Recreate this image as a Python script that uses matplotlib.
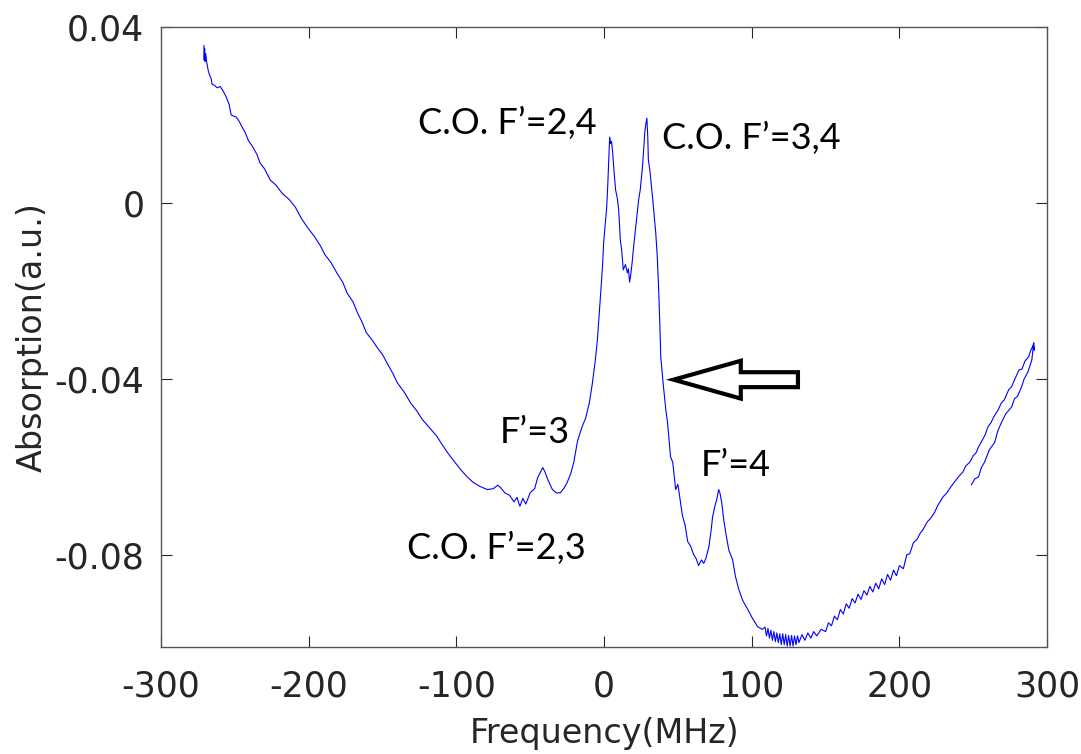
import matplotlib
matplotlib.use("Agg")
import matplotlib.pyplot as plt
from matplotlib.patches import FancyArrow

plt.rcParams['axes.unicode_minus'] = False

# Absorption trace (forward sweep, then short return near +290 MHz)
freq = [-271.0, -270.8, -270.5, -270.2, -269.8, -269.0, -268.0, -267.0, -266.0, -265.5,
        -264.0, -262.0, -260.0, -258.0, -256.0, -254.0, -252.5, -251.0, -249.0, -247.0,
        -245.0, -243.0, -241.0, -238.0, -235.0, -233.0, -230.0, -226.0, -222.0, -218.0,
        -213.0, -209.0, -205.0, -201.0, -196.0, -192.0, -189.0, -185.0, -181.0, -177.0,
        -174.0, -170.0, -167.0, -164.0, -161.0, -157.0, -154.0, -150.0, -147.0, -143.0,
        -140.0, -135.0, -131.0, -127.0, -123.0, -118.0, -113.0, -110.0, -106.0, -101.0,
        -97.0, -93.0, -88.5, -84.0, -79.0, -75.0, -72.0, -70.0, -67.0, -64.0,
        -61.0, -59.0, -57.0, -55.0, -53.0, -50.0, -47.0, -45.0, -43.0, -41.5,
        -40.0, -38.0, -35.0, -32.0, -29.5, -27.0, -25.0, -22.5, -20.5, -18.0,
        -15.0, -12.5, -10.0, -8.0, -6.0, -4.5, -3.0, -2.0, -1.0, -0.3,
        1.0, 1.8, 2.5, 3.0, 3.5, 3.8, 4.5, 5.0, 5.7, 6.8,
        7.8, 9.0, 9.9, 11.0, 12.0, 13.0, 14.5, 15.8, 16.5, 17.3,
        18.0, 19.0, 20.0, 21.4, 23.4, 24.5, 26.0, 27.0, 27.5, 28.3,
        29.0, 29.6, 30.0, 31.0, 33.0, 34.0, 35.0, 36.0, 37.0, 37.8,
        38.4, 40.0, 41.8, 43.0, 45.0, 46.5, 48.5, 50.0, 53.0, 55.0,
        56.6, 58.5, 60.7, 62.5, 64.0, 66.0, 67.5, 69.0, 71.0, 72.5,
        73.5, 75.0, 76.3, 77.6, 78.5, 79.7, 81.0, 82.4, 84.5, 87.0,
        89.0, 91.3, 94.0, 97.4, 100.5, 104.0, 107.0, 109, 110, 111,
        112, 113, 114, 115, 116, 117, 118, 119, 120, 121,
        122, 123, 124, 125, 126, 127, 128, 129, 130, 131,
        132, 134, 136, 138, 140, 142, 144, 147, 150, 152,
        154, 156, 158, 160, 162, 164, 166, 168, 170, 172,
        174, 176, 178, 180, 182, 184, 186, 188, 190, 192,
        194, 196, 198, 200, 202.7, 205, 207, 209.5, 212, 214,
        216, 219, 221, 223.7, 226, 229.7, 232, 235, 238, 240,
        243, 245, 247.6, 250, 252, 253.6, 256, 258, 260, 262,
        264, 267, 269, 271, 274, 276, 278, 281, 283, 285,
        287.5, 289, 290.5, 291, 291.3, 290.8,
        289.7, 287, 284.5, 282.8, 280, 278, 276, 272, 269, 266.5,
        264.5, 261, 259, 257.6, 255.5, 253.6, 251, 248.8]

absorption = [0.0358, 0.0325, 0.0352, 0.0322, 0.0340, 0.0318, 0.0300, 0.0290, 0.0282, 0.0270,
              0.0268, 0.0262, 0.0265, 0.0255, 0.0242, 0.0225, 0.0200, 0.0198, 0.0195, 0.0185,
              0.0172, 0.0160, 0.0143, 0.0128, 0.0110, 0.0091, 0.0078, 0.0052, 0.0040, 0.0022,
              0.0007, -0.0010, -0.0035, -0.0055, -0.0077, -0.0098, -0.0118, -0.0135, -0.0159, -0.0180,
              -0.0205, -0.0225, -0.0250, -0.0270, -0.0295, -0.0312, -0.0327, -0.0345, -0.0364, -0.0388,
              -0.0409, -0.0432, -0.0455, -0.0472, -0.0493, -0.0512, -0.0532, -0.0548, -0.0568, -0.0590,
              -0.0607, -0.0622, -0.0636, -0.0645, -0.0652, -0.0650, -0.0642, -0.0648, -0.0660, -0.0665,
              -0.0680, -0.0670, -0.0690, -0.0672, -0.0685, -0.0659, -0.0650, -0.0625, -0.0612, -0.0602,
              -0.0612, -0.0630, -0.0652, -0.0660, -0.0659, -0.0648, -0.0636, -0.0615, -0.0590, -0.0542,
              -0.0510, -0.0490, -0.0455, -0.0412, -0.0360, -0.0311, -0.0240, -0.0191, -0.0140, -0.0091,
              -0.0040, -0.0009, 0.0040, 0.0082, 0.0130, 0.0150, 0.0135, 0.0140, 0.0120, 0.0070,
              0.0030, 0.0010, -0.0016, -0.0084, -0.0110, -0.0152, -0.0140, -0.0159, -0.0150, -0.0180,
              -0.0165, -0.0136, -0.0100, -0.0055, 0.0007, 0.0030, 0.0082, 0.0130, 0.0159, 0.0180,
              0.0193, 0.0150, 0.0098, 0.0075, 0.0007, -0.0030, -0.0068, -0.0120, -0.0198, -0.0280,
              -0.0350, -0.0410, -0.0470, -0.0500, -0.0577, -0.0590, -0.0652, -0.0640, -0.0710, -0.0735,
              -0.0770, -0.0780, -0.0800, -0.0810, -0.0825, -0.0812, -0.0820, -0.0808, -0.0782, -0.0745,
              -0.0714, -0.0690, -0.0675, -0.0652, -0.0660, -0.0682, -0.0720, -0.0750, -0.0790, -0.0811,
              -0.0850, -0.0880, -0.0905, -0.0925, -0.0945, -0.0964, -0.0970, -0.0965, -0.0985, -0.0968,
              -0.0990, -0.0972, -0.0995, -0.0975, -0.0998, -0.0978, -0.1000, -0.0980, -0.1005, -0.0980,
              -0.1005, -0.0982, -0.1008, -0.0984, -0.1008, -0.0984, -0.1008, -0.0985, -0.1005, -0.0985,
              -0.1000, -0.0982, -0.0995, -0.0978, -0.0990, -0.0975, -0.0985, -0.0970, -0.0975, -0.0955,
              -0.0962, -0.0940, -0.0948, -0.0925, -0.0935, -0.0912, -0.0922, -0.0900, -0.0910, -0.0890,
              -0.0902, -0.0882, -0.0892, -0.0872, -0.0885, -0.0865, -0.0878, -0.0855, -0.0868, -0.0845,
              -0.0858, -0.0835, -0.0848, -0.0825, -0.0832, -0.0800, -0.0798, -0.0773, -0.0765, -0.0752,
              -0.0743, -0.0725, -0.0718, -0.0705, -0.0688, -0.0668, -0.0660, -0.0645, -0.0632, -0.0623,
              -0.0612, -0.0598, -0.0590, -0.0575, -0.0568, -0.0555, -0.0540, -0.0528, -0.0509, -0.0500,
              -0.0486, -0.0470, -0.0455, -0.0448, -0.0425, -0.0418, -0.0402, -0.0380, -0.0378, -0.0360,
              -0.0350, -0.0335, -0.0325, -0.0318, -0.0335, -0.0322,
              -0.0357, -0.0385, -0.0400, -0.0418, -0.0440, -0.0445, -0.0464, -0.0480, -0.0500, -0.0520,
              -0.0545, -0.0561, -0.0578, -0.0590, -0.0602, -0.0623, -0.0628, -0.0641]

xticks = [-300, -200, -100, 0, 100, 200, 300]
yticks = [-0.08, -0.04, 0, 0.04]
ytick_labels = ['-0.08', '-0.04', '0', '0.04']

# peak labels: (text, x, y)
peak_labels = [("C.O. F\u2019=2,4", -65.6, 0.0182),
               ("C.O. F\u2019=3,4", 99.4, 0.0148),
               ("F\u2019=3", -46.6, -0.0523),
               ("F\u2019=4", 89.3, -0.0598),
               ("C.O. F\u2019=2,3", -73.0, -0.0786)]

axcol = '#262626'

fig = plt.figure(figsize=(10.81, 7.54), dpi=100)
ax = fig.add_axes([0.149, 0.142, 0.8196, 0.822])

ax.plot(freq, absorption, color=(0, 0, 1), lw=0.8)

ax.set_xlim(-300, 300)
ax.set_ylim(-0.101, 0.04)
ax.set_xticks(xticks)
ax.set_yticks(yticks)
ax.set_yticklabels(ytick_labels)
ax.tick_params(direction='in', length=8, width=0.8, top=True, right=True,
               labelsize=25, colors=axcol)
ax.tick_params(axis='x', pad=16)
ax.tick_params(axis='y', pad=12)
for lbl in ax.get_xticklabels() + ax.get_yticklabels():
    lbl.set_family('DejaVu Sans')
for s in ax.spines.values():
    s.set_color('#555555')
    s.set_linewidth(1.0)

ax.set_xlabel('Frequency(MHz)', fontsize=24, color=axcol, family='DejaVu Sans', labelpad=10)
ax.set_ylabel('Absorption(a.u.)', fontsize=24, color=axcol, family='DejaVu Sans', labelpad=4)

for txt, x, y in peak_labels:
    ax.text(x, y, txt, fontsize=26, family='Lato', ha='center', va='center', color='black')

# hollow block arrow pointing at the steep flank
ax.add_patch(FancyArrow(131.3, -0.0402, -84.2, 0, width=0.0034, head_width=0.0086,
                        head_length=45.5, length_includes_head=True,
                        fc='white', ec='black', lw=3, joinstyle='miter', zorder=5))

fig.savefig('out.png', dpi=100)
